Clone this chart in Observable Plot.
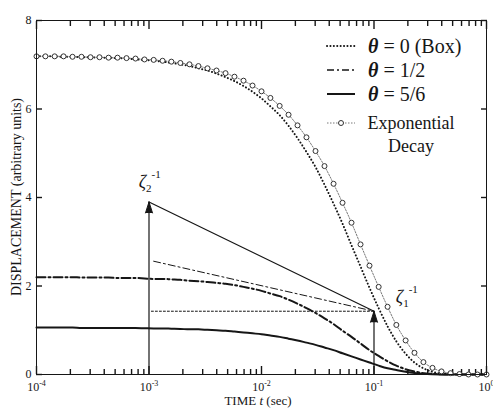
<!DOCTYPE html>
<html><head><meta charset="utf-8">
<script src="https://cdn.jsdelivr.net/npm/d3@7"></script>
<script src="https://cdn.jsdelivr.net/npm/@observablehq/plot@0.6"></script>
<style>body{margin:0;background:#fff}svg{display:block}</style>
</head><body><div id="chart"></div>
<script>
// ---- data ----
const time = [0.0001,0.00012,0.000145,0.000174,0.000209,0.000251,0.000302,0.000363,0.000437,0.000525,
  0.000631,0.000759,0.000912,0.0011,0.00132,0.00158,0.0019,0.00229,0.00275,0.00331,
  0.00398,0.00479,0.00575,0.00692,0.00832,0.01,0.012,0.0145,0.0174,0.0209,
  0.0251,0.0302,0.0363,0.0437,0.0525,0.0631,0.0759,0.0912,0.11,0.132,
  0.158,0.191,0.229,0.275,0.331,0.398,0.479,0.575,0.692,0.832,1];
const expDecay = [7.19,7.19,7.19,7.19,7.18,7.18,7.17,7.17,7.16,7.16,
  7.15,7.14,7.12,7.11,7.09,7.07,7.04,7.01,6.97,6.92,
  6.87,6.81,6.73,6.64,6.53,6.40,6.25,6.07,5.87,5.63,
  5.36,5.05,4.71,4.31,3.88,3.43,2.94,2.46,1.98,1.53,
  1.12,0.77,0.49,0.28,0.15,0.07,0.03,0.01,0,0,0];
const thetaBox = [7.19,7.19,7.19,7.18,7.18,7.17,7.17,7.16,7.16,7.15,
  7.14,7.12,7.11,7.09,7.07,7.04,7.01,6.97,6.92,6.87,
  6.80,6.72,6.63,6.52,6.39,6.24,6.06,5.86,5.62,5.34,
  5.03,4.69,4.29,3.86,3.41,2.92,2.44,1.96,1.50,1.09,
  0.75,0.47,0.27,0.14,0.06,0.02,0.01,0,0,0,0];
const thetaHalf = [2.20,2.20,2.20,2.20,2.20,2.19,2.19,2.19,2.19,2.18,
  2.18,2.18,2.17,2.16,2.16,2.15,2.14,2.12,2.11,2.09,
  2.07,2.05,2.02,1.98,1.94,1.89,1.83,1.77,1.69,1.60,
  1.50,1.39,1.27,1.14,0.99,0.85,0.70,0.55,0.42,0.30,
  0.20,0.12,0.07,0.03,0.015,0.005,0,0,0,0,0];
const thetaFiveSixths = [1.06,1.06,1.06,1.06,1.06,1.05,1.05,1.05,1.05,1.05,
  1.05,1.05,1.045,1.04,1.04,1.035,1.03,1.02,1.02,1.01,
  1.00,0.99,0.97,0.95,0.93,0.91,0.88,0.85,0.81,0.77,
  0.72,0.67,0.61,0.55,0.48,0.41,0.34,0.27,0.20,0.14,
  0.10,0.06,0.033,0.016,0.007,0.002,0,0,0,0,0];

const xMajor = [1e-4, 1e-3, 1e-2, 1e-1, 1];
const xMinor = [2e-4,3e-4,4e-4,5e-4,6e-4,7e-4,8e-4,9e-4,
  2e-3,3e-3,4e-3,5e-3,6e-3,7e-3,8e-3,9e-3,
  0.02,0.03,0.04,0.05,0.06,0.07,0.08,0.09,
  0.2,0.3,0.4,0.5,0.6,0.7,0.8,0.9];
const yTicks = [0, 2, 4, 6, 8];

// annotations: arrows at zeta2^-1 and zeta1^-1
const arrowT = [0.001, 0.1];
const arrowTop = [3.9, 1.43];
const zetaSub = ["2", "1"];
const zetaLabelT = [0.00082, 0.158];
const zetaLabelY = [4.2, 1.6];
const guideSolidT = [0.001, 0.1], guideSolidY = [3.9, 1.43];
const guideDashDotT = [0.0011, 0.1], guideDashDotY = [2.56, 1.43];
const guideDotT = [0.00105, 0.1], guideDotY = [1.43, 1.43];

const legendLabels = ["= 0 (Box)", "= 1/2", "= 5/6"];
const xTitle = ["TIME ", "t", " (sec)"];
const yTitle = "DISPLACEMENT (arbitrary units)";

// ---- build ----
const rows = time.map((t, i) => ({t, exp: expDecay[i], box: thetaBox[i], half: thetaHalf[i], five: thetaFiveSixths[i]}));
const arrows = arrowT.map((t, i) => ({t, top: arrowTop[i]}));
const seg = (T, Y) => T.map((t, i) => ({t, y: Y[i]}));
const serif = "'Liberation Serif','Times New Roman',serif";
const ink = "#161616";
const none = () => "";
const tk = {stroke: ink, strokeWidth: 1.4, tickFormat: none};

const plot = Plot.plot({
  width: 493, height: 409,
  marginLeft: 36, marginRight: 7, marginTop: 20, marginBottom: 35,
  style: {fontFamily: serif, fontSize: "12px", background: "#fff", color: ink},
  x: {type: "log", domain: [1e-4, 1], label: null},
  y: {domain: [0, 8], label: null},
  marks: [
    // inward ticks: outward ticks shifted back inside the frame
    Plot.axisX({anchor: "bottom", ticks: xMinor, tickSize: 5, dy: -5, ...tk}),
    Plot.axisX({anchor: "top", ticks: xMinor, tickSize: 5, dy: 5, ...tk}),
    Plot.axisX({anchor: "bottom", ticks: xMajor, tickSize: 8, dy: -8, ...tk}),
    Plot.axisX({anchor: "top", ticks: xMajor, tickSize: 8, dy: 8, ...tk}),
    Plot.axisY({anchor: "left", ticks: yTicks, tickSize: 6, dx: 6, ...tk}),
    Plot.axisY({anchor: "right", ticks: yTicks, tickSize: 6, dx: -6, ...tk}),
    Plot.axisX({anchor: "bottom", ticks: xMajor, tickSize: 0, tickPadding: 8, fontSize: 12,
      tickFormat: d => "10^" + Math.round(Math.log10(d))}),
    Plot.axisY({anchor: "left", ticks: yTicks, tickSize: 0, tickPadding: 5, fontSize: 12}),
    // curves
    Plot.line(rows, {x: "t", y: "five", stroke: ink, strokeWidth: 2, curve: "monotone-x"}),
    Plot.line(rows, {x: "t", y: "half", stroke: ink, strokeWidth: 2, strokeDasharray: "9,3,2,3", curve: "monotone-x"}),
    Plot.line(rows, {x: "t", y: "box", stroke: ink, strokeWidth: 2, strokeDasharray: "0.1,3.3", strokeLinecap: "round", curve: "monotone-x"}),
    Plot.line(rows, {x: "t", y: "exp", stroke: "#555", strokeWidth: 0.8, strokeDasharray: "1.5,1.5", curve: "monotone-x"}),
    Plot.dot(rows, {x: "t", y: "exp", r: 2.5, stroke: "#333", strokeWidth: 1, fill: "white"}),
    // annotations
    Plot.line(seg(guideSolidT, guideSolidY), {x: "t", y: "y", stroke: ink, strokeWidth: 1.2}),
    Plot.line(seg(guideDashDotT, guideDashDotY), {x: "t", y: "y", stroke: ink, strokeWidth: 1, strokeDasharray: "7,3,2,3"}),
    Plot.line(seg(guideDotT, guideDotY), {x: "t", y: "y", stroke: ink, strokeWidth: 1, strokeDasharray: "2,2"}),
    Plot.ruleX(arrows, {x: "t", y1: 0, y2: "top", stroke: ink, strokeWidth: 1.2}),
    Plot.vector(arrows, {x: "t", y: "top", length: 11, r: 3.5, rotate: 0, shape: "spike", anchor: "end", fill: ink, stroke: ink, strokeWidth: 1}),
    Plot.frame({stroke: ink, strokeWidth: 1})
  ]
});

const svg = d3.select(plot);
const xs = plot.scale("x"), ys = plot.scale("y");

// superscript exponents on x tick labels
svg.selectAll('g[aria-label="x-axis tick label"] text').each(function() {
  const s = this.textContent;
  if (!s.includes("^")) return;
  const [base, ex] = s.split("^");
  this.textContent = base;
  d3.select(this).append("tspan").attr("dy", "-5").attr("font-size", 8).text(ex === "0" ? "0" : "-" + ex.replace("-", ""));
});

// zeta labels
zetaSub.forEach((sub, i) => {
  const t = svg.append("text").attr("text-anchor", "start")
    .attr("x", xs.apply(zetaLabelT[i])).attr("y", ys.apply(zetaLabelY[i]))
    .attr("font-family", serif).attr("font-size", 18).attr("fill", ink);
  t.append("tspan").attr("font-style", "italic").text("ζ");
  t.append("tspan").attr("font-size", 11).attr("dy", 4).text(sub);
  t.append("tspan").attr("font-size", 11).attr("dy", -14).text("-1");
});

// axis titles
const xt = svg.append("text").attr("x", 258).attr("y", 405).attr("text-anchor", "middle")
  .attr("font-family", serif).attr("font-size", 13).attr("fill", ink);
xt.append("tspan").text(xTitle[0]);
xt.append("tspan").attr("font-style", "italic").text(xTitle[1]);
xt.append("tspan").text(xTitle[2]);
svg.append("text").attr("transform", "translate(21,197) rotate(-90)").attr("text-anchor", "middle")
  .attr("font-family", serif).attr("font-size", 14).attr("fill", ink).text(yTitle);

// legend
const lg = svg.append("g").attr("font-family", serif).attr("font-size", 18).attr("fill", ink);
const legendStyles = [
  {dash: "0.1,3.3", w: 2, cap: "round"},
  {dash: "7,3,2,3", w: 1.6, cap: "butt"},
  {dash: null, w: 2, cap: "butt"}
];
const ly = [46, 70, 94];
legendLabels.forEach((lab, i) => {
  lg.append("line").attr("x1", 327).attr("x2", 355).attr("y1", ly[i]).attr("y2", ly[i])
    .attr("stroke", ink).attr("stroke-width", legendStyles[i].w)
    .attr("stroke-dasharray", legendStyles[i].dash).attr("stroke-linecap", legendStyles[i].cap);
  const tx = lg.append("text").attr("text-anchor", "start").attr("x", 368).attr("y", ly[i])
    .attr("dy", "0.35em").attr("font-size", 20);
  tx.append("tspan").attr("font-style", "italic").attr("font-weight", "bold").text("θ");
  tx.append("tspan").text(" " + lab);
});
lg.append("line").attr("x1", 327).attr("x2", 355).attr("y1", 123).attr("y2", 123)
  .attr("stroke", "#555").attr("stroke-width", 0.8).attr("stroke-dasharray", "1.5,1.5");
lg.append("circle").attr("cx", 341).attr("cy", 123).attr("r", 2.5).attr("fill", "white").attr("stroke", "#333");
lg.append("text").attr("x", 411).attr("y", 123).attr("dy", "0.35em").attr("text-anchor", "middle").text("Exponential");
lg.append("text").attr("x", 411).attr("y", 146).attr("dy", "0.35em").attr("text-anchor", "middle").text("Decay");

document.getElementById("chart").append(plot);
</script></body></html>
